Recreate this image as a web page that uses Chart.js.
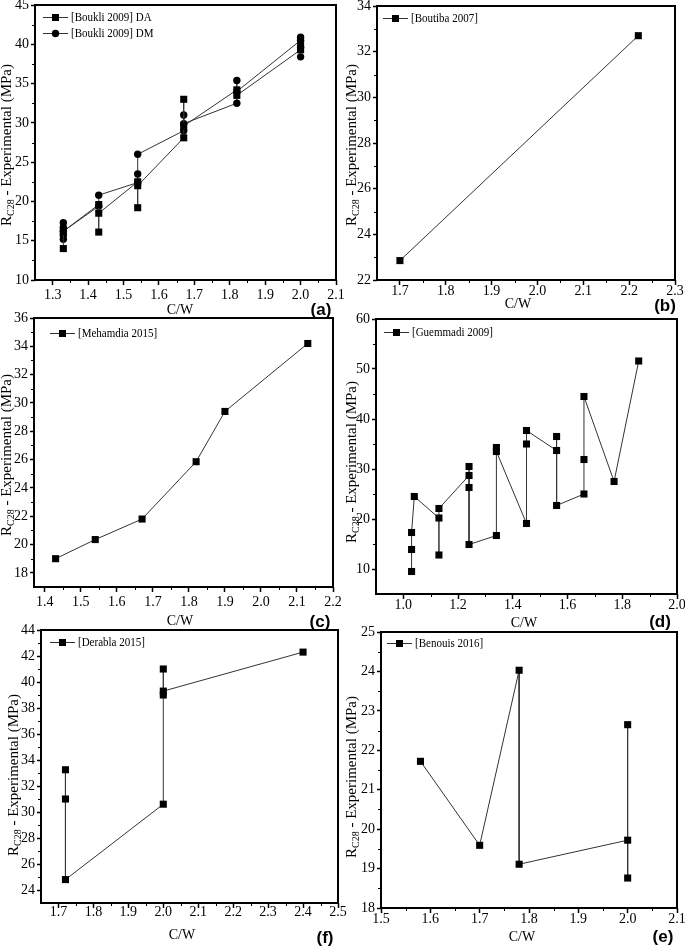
<!DOCTYPE html>
<html>
<head>
<meta charset="utf-8">
<script src="https://cdn.jsdelivr.net/npm/chart.js@4.4.0/dist/chart.umd.min.js"></script>
<style>
  body { margin: 0; background: #fff; }
  #fig { position: relative; width: 685px; height: 947px; overflow: hidden; background: #fff; }
  #fig canvas { position: absolute; }
</style>
</head>
<body>
<div id="fig"></div>
<script>
// ---- data ----
// (a) Boukli 2009
const boukliDA_x = [1.33, 1.33, 1.43, 1.43, 1.43, 1.54, 1.54, 1.54, 1.67, 1.67, 1.67, 1.82, 1.82, 2.00, 2.00];
const boukliDA_y = [14.0, 16.2, 19.6, 16.1, 18.5, 22.5, 19.2, 22.0, 28.1, 33.0, 29.6, 34.2, 33.5, 39.3, 40.0];
const boukliDM_x = [1.33, 1.33, 1.33, 1.33, 1.33, 1.43, 1.43, 1.54, 1.54, 1.54, 1.67, 1.67, 1.67, 1.82, 1.82, 1.82, 2.00, 2.00, 2.00, 2.00];
const boukliDM_y = [15.2, 15.7, 17.3, 16.7, 16.2, 19.4, 20.8, 22.4, 23.5, 26.0, 29.0, 31.0, 29.9, 32.5, 35.4, 34.0, 40.5, 38.4, 39.6, 40.9];
// (b) Boutiba 2007
const boutiba_x = [1.70, 2.22];
const boutiba_y = [22.85, 32.7];
// (c) Mehamdia 2015
const mehamdia_x = [1.43, 1.54, 1.67, 1.82, 1.90, 2.13];
const mehamdia_y = [19.0, 20.35, 21.8, 25.85, 29.4, 34.2];
// (d) Guemmadi 2009
const guemmadi_x = [1.03, 1.03, 1.03, 1.04, 1.13, 1.13, 1.13, 1.24, 1.24, 1.24, 1.24, 1.34, 1.34, 1.34, 1.45, 1.45, 1.45, 1.56, 1.56, 1.56, 1.66, 1.66, 1.66, 1.77, 1.86];
const guemmadi_y = [9.5, 13.9, 17.3, 24.5, 20.2, 12.8, 22.1, 28.7, 30.5, 26.3, 14.9, 16.7, 34.3, 33.5, 19.1, 35.0, 37.7, 33.7, 36.5, 22.7, 25.0, 31.9, 44.5, 27.5, 51.6];
// (f) Derabla 2015
const derabla_x = [1.72, 1.72, 1.72, 2.00, 2.00, 2.00, 2.00, 2.40];
const derabla_y = [33.25, 31.0, 24.8, 30.6, 41.0, 39.0, 39.3, 42.3];
// (e) Benouis 2016
const benouis_x = [1.58, 1.70, 1.78, 1.78, 2.00, 2.00, 2.00];
const benouis_y = [21.72, 19.59, 24.03, 19.11, 19.72, 22.65, 18.76];

// tick labels
const ticksXa = [1.3, 1.4, 1.5, 1.6, 1.7, 1.8, 1.9, 2.0, 2.1];
const ticksYa = [10, 15, 20, 25, 30, 35, 40, 45];
const ticksXb = [1.7, 1.8, 1.9, 2.0, 2.1, 2.2, 2.3];
const ticksYb = [22, 24, 26, 28, 30, 32, 34];
const ticksXc = [1.4, 1.5, 1.6, 1.7, 1.8, 1.9, 2.0, 2.1, 2.2];
const ticksYc = [18, 20, 22, 24, 26, 28, 30, 32, 34, 36];
const ticksXd = [1.0, 1.2, 1.4, 1.6, 1.8, 2.0];
const ticksYd = [10, 20, 30, 40, 50, 60];
const ticksXf = [1.7, 1.8, 1.9, 2.0, 2.1, 2.2, 2.3, 2.4, 2.5];
const ticksYf = [24, 26, 28, 30, 32, 34, 36, 38, 40, 42, 44];
const ticksXe = [1.5, 1.6, 1.7, 1.8, 1.9, 2.0, 2.1];
const ticksYe = [18, 19, 20, 21, 22, 23, 24, 25];

const pts = (xs, ys) => xs.map((x, i) => ({ x: x, y: ys[i] }));
const SERIF = '"Liberation Serif", "Times New Roman", serif';

// one entry per panel; positions are page pixels
const panels = [
  { box: [0, 0, 365, 320], area: [35, 5, 336, 280], xr: [1.25, 2.1], yr: [10, 45], xt: ticksXa, yt: ticksYa, xpad: 2,
    series: [
      { label: '[Boukli 2009] DA', data: pts(boukliDA_x, boukliDA_y), shape: 'rect' },
      { label: '[Boukli 2009] DM', data: pts(boukliDM_x, boukliDM_y), shape: 'circle' }
    ],
    legend: [43, 17], xTitle: [180, 310], tag: ['(a)', 321, 310], yTitle: [6, 145] },
  { box: [342, 0, 343, 320], area: [377, 6, 675, 280], xr: [1.65, 2.3], yr: [22, 34], xt: ticksXb, yt: ticksYb, xpad: -2,
    series: [{ label: '[Boutiba 2007]', data: pts(boutiba_x, boutiba_y), shape: 'rect' }],
    legend: [383, 18], xTitle: [518, 304], tag: ['(b)', 665, 306], yTitle: [351, 145] },
  { box: [0, 300, 365, 330], area: [34, 318, 333, 587], xr: [1.37, 2.2], yr: [17, 36], xt: ticksXc, yt: ticksYc, xpad: 2,
    series: [{ label: '[Mehamdia 2015]', data: pts(mehamdia_x, mehamdia_y), shape: 'rect' }],
    legend: [50, 333], xTitle: [180, 621], tag: ['(c)', 320, 622], yTitle: [6, 455] },
  { box: [342, 300, 343, 330], area: [376, 319, 677, 594], xr: [0.9, 2.0], yr: [5, 60], xt: ticksXd, yt: ticksYd, xpad: -2,
    series: [{ label: '[Guemmadi 2009]', data: pts(guemmadi_x, guemmadi_y), shape: 'rect' }],
    legend: [384, 332], xTitle: [524, 623], tag: ['(d)', 660, 622], yTitle: [351, 462] },
  { box: [0, 612, 365, 335], area: [41, 630, 338, 903], xr: [1.65, 2.5], yr: [23, 44], xt: ticksXf, yt: ticksYf, xpad: -4,
    series: [{ label: '[Derabla 2015]', data: pts(derabla_x, derabla_y), shape: 'rect' }],
    legend: [50, 642], xTitle: [182, 935], tag: ['(f)', 325, 938], yTitle: [13, 775] },
  { box: [342, 612, 343, 335], area: [381, 632, 677, 908], xr: [1.5, 2.1], yr: [18, 25], xt: ticksXe, yt: ticksYe, xpad: -2,
    series: [{ label: '[Benouis 2016]', data: pts(benouis_x, benouis_y), shape: 'rect' }],
    legend: [387, 643], xTitle: [522, 937], tag: ['(e)', 663, 937], yTitle: [351, 777] }
];

function drawMarker(ctx, shape, x, y) {
  ctx.beginPath();
  if (shape === 'rect') ctx.rect(x - 3.5, y - 3.5, 7, 7);
  else ctx.arc(x, y, 3.7, 0, Math.PI * 2);
  ctx.fill();
}

// frame, minor ticks, titles, legend and panel tag
const decor = {
  id: 'decor',
  afterDraw(chart, args, o) {
    const p = o.panel, ctx = chart.ctx, a = chart.chartArea;
    const ox = p.box[0], oy = p.box[1];
    ctx.save();
    ctx.strokeStyle = '#000';
    ctx.fillStyle = '#000';
    ctx.lineWidth = 2;
    ctx.strokeRect(a.left, a.top, a.right - a.left, a.bottom - a.top);

    // minor ticks half way between majors
    ctx.lineWidth = 1;
    const xs = chart.scales.x, ys = chart.scales.y;
    const minors = (t, lo, hi) => {
      const out = [], st = t[1] - t[0];
      for (let i = -1; i < t.length; i++) {
        const v = t[0] + (i + 0.5) * st;
        if (v > lo + 1e-9 && v < hi - 1e-9) out.push(v);
      }
      return out;
    };
    ctx.beginPath();
    minors(p.xt, p.xr[0], p.xr[1]).forEach(v => {
      const px = Math.round(xs.getPixelForValue(v)) + 0.5;
      ctx.moveTo(px, a.bottom); ctx.lineTo(px, a.bottom + 3);
    });
    minors(p.yt, p.yr[0], p.yr[1]).forEach(v => {
      const py = Math.round(ys.getPixelForValue(v)) + 0.5;
      ctx.moveTo(a.left, py); ctx.lineTo(a.left - 3, py);
    });
    ctx.stroke();

    // x title
    ctx.font = '14px ' + SERIF;
    ctx.textAlign = 'center';
    ctx.textBaseline = 'middle';
    ctx.fillText('C/W', p.xTitle[0] - ox, p.xTitle[1] - oy);

    // panel tag
    ctx.font = 'bold 17px "Liberation Sans", Arial, sans-serif';
    ctx.fillText(p.tag[0], p.tag[1] - ox, p.tag[2] - oy);

    // y title with subscript
    ctx.save();
    ctx.translate(p.yTitle[0] - ox, p.yTitle[1] - oy);
    ctx.rotate(-Math.PI / 2);
    const big = '15px ' + SERIF, small = '10px ' + SERIF;
    const rest = ' - Experimental (MPa)';
    ctx.font = big; const wR = ctx.measureText('R').width, wRest = ctx.measureText(rest).width;
    ctx.font = small; const wSub = ctx.measureText('C28').width;
    let x0 = -(wR + wSub + wRest) / 2;
    ctx.textAlign = 'left';
    ctx.textBaseline = 'alphabetic';
    ctx.font = big; ctx.fillText('R', x0, 5);
    ctx.font = small; ctx.fillText('C28', x0 + wR, 8);
    ctx.font = big; ctx.fillText(rest, x0 + wR + wSub, 5);
    ctx.restore();

    // legend (text slightly condensed like the source figure)
    ctx.font = '12.5px ' + SERIF;
    ctx.textAlign = 'left';
    ctx.textBaseline = 'middle';
    p.series.forEach((s, i) => {
      const lx = p.legend[0] - ox, ly = p.legend[1] - oy + i * 16;
      ctx.strokeStyle = '#333';
      ctx.beginPath(); ctx.moveTo(lx, ly + 0.5); ctx.lineTo(lx + 25, ly + 0.5); ctx.stroke();
      drawMarker(ctx, s.shape, lx + 12.5, ly + 0.5);
      ctx.save();
      ctx.translate(lx + 28, ly + 1);
      ctx.scale(0.88, 1);
      ctx.fillText(s.label, 0, 0);
      ctx.restore();
    });
    ctx.restore();
  }
};

const fig = document.getElementById('fig');

panels.forEach(p => {
  const [bx, by, bw, bh] = p.box;
  const [L, T, R, B] = p.area;
  const cv = document.createElement('canvas');
  cv.width = bw; cv.height = bh;
  cv.style.left = bx + 'px'; cv.style.top = by + 'px';
  cv.style.width = bw + 'px'; cv.style.height = bh + 'px';
  fig.appendChild(cv);

  const tickFont = { family: SERIF, size: 14 };
  const fixX = s => { s.height = by + bh - B; s.paddingLeft = s.paddingRight = s.paddingTop = s.paddingBottom = 0; };
  const fixY = s => { s.width = L - bx; s.paddingLeft = s.paddingRight = s.paddingTop = s.paddingBottom = 0; };

  new Chart(cv, {
    type: 'scatter',
    data: {
      datasets: p.series.map(s => ({
        label: s.label,
        data: s.data,
        showLine: true,
        borderColor: '#333',
        borderWidth: 1,
        backgroundColor: '#000',
        pointBackgroundColor: '#000',
        pointBorderColor: '#000',
        pointBorderWidth: 0,
        pointStyle: s.shape,
        pointRadius: s.shape === 'rect' ? 5 : 3.7,
        tension: 0
      }))
    },
    options: {
      responsive: false,
      devicePixelRatio: 1,
      animation: false,
      layout: { padding: { left: 0, top: T - by, right: bx + bw - R, bottom: 0 } },
      plugins: {
        legend: { display: false },
        tooltip: { enabled: false },
        decor: { panel: p }
      },
      scales: {
        x: {
          type: 'linear', position: 'bottom', min: p.xr[0], max: p.xr[1],
          afterBuildTicks: s => { s.ticks = p.xt.map(v => ({ value: v })); },
          afterFit: fixX,
          ticks: { callback: v => Number(v).toFixed(1), font: tickFont, color: '#000', padding: p.xpad, maxRotation: 0, autoSkip: false },
          grid: { display: true, drawOnChartArea: false, drawTicks: true, tickLength: 5, tickColor: '#000', tickWidth: 1.5 },
          border: { display: false }
        },
        y: {
          type: 'linear', position: 'left', min: p.yr[0], max: p.yr[1],
          afterBuildTicks: s => { s.ticks = p.yt.map(v => ({ value: v })); },
          afterFit: fixY,
          ticks: { callback: v => String(v), font: tickFont, color: '#000', padding: 2, autoSkip: false },
          grid: { display: true, drawOnChartArea: false, drawTicks: true, tickLength: 4, tickColor: '#000', tickWidth: 1.5 },
          border: { display: false }
        }
      }
    },
    plugins: [decor]
  });
});
</script>
</body>
</html>
